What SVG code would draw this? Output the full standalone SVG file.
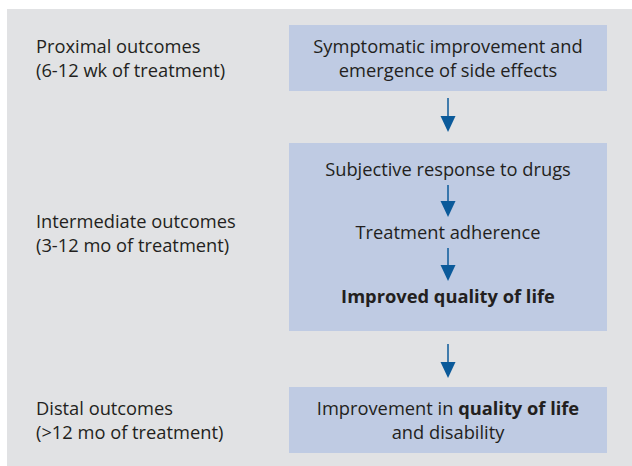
<svg xmlns="http://www.w3.org/2000/svg" width="632" height="466" viewBox="0 0 632 466">
  <defs>
    <style>
      .lbl { font-family: "Open Sans", "Noto Sans", "Liberation Sans", sans-serif; font-size: 18.3px; fill: #231f20; }
      .mid { text-anchor: middle; }
      .b { font-weight: bold; }
      .box { fill: #bfcbe3; }
      .conn line { stroke: #0b5a9a; stroke-width: 1.5; }
      .conn path { fill: #0b5a9a; }
    </style>
  </defs>
  <rect x="0" y="0" width="632" height="466" fill="#ffffff"/>
  <rect x="7" y="9" width="625" height="457" fill="#e1e2e4"/>

  <g id="proximal-label">
    <text class="lbl" x="36" y="53">Proximal outcomes</text>
    <text class="lbl" x="36" y="77">(6-12 wk of treatment)</text>
  </g>
  <g id="intermediate-label">
    <text class="lbl" x="36" y="228">Intermediate outcomes</text>
    <text class="lbl" x="36" y="252">(3-12 mo of treatment)</text>
  </g>
  <g id="distal-label">
    <text class="lbl" x="36" y="415">Distal outcomes</text>
    <text class="lbl" x="36" y="439">(&gt;12 mo of treatment)</text>
  </g>

  <g id="symptomatic">
    <rect class="box" x="289" y="25" width="318" height="66"/>
    <text class="lbl mid" x="448" y="53">Symptomatic improvement and</text>
    <text class="lbl mid" x="448" y="77">emergence of side effects</text>
  </g>

  <g id="intermediate">
    <rect class="box" x="289" y="143" width="318" height="188"/>
    <text class="lbl mid" x="448" y="176">Subjective response to drugs</text>
    <text class="lbl mid" x="448" y="239">Treatment adherence</text>
    <text class="lbl mid b" x="448" y="303">Improved quality of life</text>
  </g>

  <g id="distal">
    <rect class="box" x="289" y="387" width="318" height="66"/>
    <text class="lbl mid" x="448" y="415">Improvement in <tspan class="b">quality of life</tspan></text>
    <text class="lbl mid" x="448" y="439">and disability</text>
  </g>

  <g class="conn" id="connectors">
    <line x1="448" y1="98" x2="448" y2="118"/>
    <path d="M440.5 116 L455.5 116 L448 132 Z"/>
    <line x1="448" y1="185" x2="448" y2="203"/>
    <path d="M440.5 201 L455.5 201 L448 217 Z"/>
    <line x1="448" y1="248" x2="448" y2="267"/>
    <path d="M440.5 265 L455.5 265 L448 281 Z"/>
    <line x1="448" y1="344" x2="448" y2="364"/>
    <path d="M440.5 362 L455.5 362 L448 378 Z"/>
  </g>
</svg>
